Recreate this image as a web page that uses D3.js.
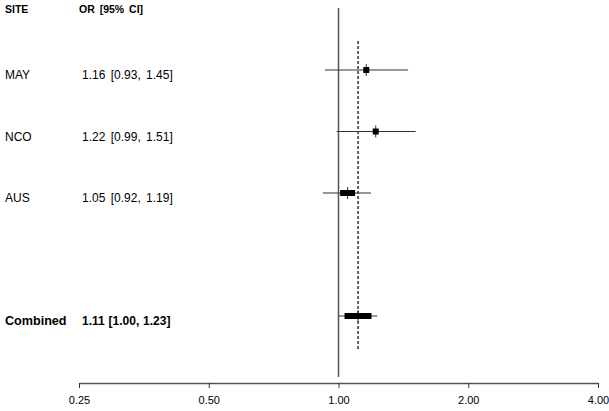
<!DOCTYPE html>
<html><head><meta charset="utf-8">
<script src="https://cdn.jsdelivr.net/npm/d3@7"></script>
<style>body{margin:0;background:#fff}</style>
</head><body>
<script>
const sites = ["MAY", "NCO", "AUS", "Combined"];
const orVals = [1.16, 1.22, 1.05, 1.11];
const ciLow = [0.93, 0.99, 0.92, 1.00];
const ciHigh = [1.45, 1.51, 1.19, 1.23];
const weights = [6, 6, 15, 27];
const rowIndex = [0, 1, 2, 4];
const tickVals = [0.25, 0.5, 1, 2, 4];
const tickLabels = ["0.25", "0.50", "1.00", "2.00", "4.00"];

const W = 609, H = 411;
const svg = d3.select("body").append("svg").attr("width", W).attr("height", H)
  .style("font-family", "'Liberation Sans', Arial, sans-serif");

const x = d3.scaleLog().base(2).domain([0.25, 4]).range([79, 598]);
const y = d3.scaleLinear().domain([0, 4]).range([70, 316]);

// header
svg.append("text").attr("x", 5).attr("y", 12.5).attr("font-size", 10.5).attr("font-weight", "bold").text("SITE");
svg.append("text").attr("x", 79).attr("y", 12.5).attr("font-size", 10.5).attr("font-weight", "bold").attr("word-spacing", 2).text("OR [95% CI]");

// reference line at 1
svg.append("line").attr("x1", x(1)).attr("x2", x(1)).attr("y1", 8).attr("y2", 377)
  .attr("stroke", "#555").attr("stroke-width", 1.5);
// combined dashed line
const comb = orVals[3];
svg.append("line").attr("x1", x(comb)).attr("x2", x(comb)).attr("y1", 41).attr("y2", 350)
  .attr("stroke", "#000").attr("stroke-width", 1.2).attr("stroke-dasharray", "3,2");

const fmt = d3.format(".2f");
sites.forEach((s, i) => {
  const yy = y(rowIndex[i]);
  const bold = s === "Combined";
  svg.append("text").attr("x", 5).attr("y", yy + 9).attr("font-size", bold ? 12.6 : 12)
    .attr("font-weight", bold ? "bold" : "normal").text(s);
  svg.append("text").attr("x", 82).attr("y", yy + 9).attr("font-size", 12)
    .attr("font-weight", bold ? "bold" : "normal").attr("word-spacing", bold ? 0.5 : 2)
    .text(fmt(orVals[i]) + " [" + fmt(ciLow[i]) + ", " + fmt(ciHigh[i]) + "]");
  // CI line
  svg.append("line").attr("x1", x(ciLow[i])).attr("x2", x(ciHigh[i])).attr("y1", yy).attr("y2", yy)
    .attr("stroke", "#333").attr("stroke-width", 1);
  // vertical tick
  svg.append("line").attr("x1", x(orVals[i])).attr("x2", x(orVals[i])).attr("y1", yy - 6).attr("y2", yy + 6)
    .attr("stroke", "#333").attr("stroke-width", 1);
  // box
  const w = weights[i];
  svg.append("rect").attr("x", x(orVals[i]) - w / 2).attr("y", yy - 3).attr("width", w).attr("height", 6)
    .attr("fill", "#000");
});

// axis
const axis = d3.axisBottom(x).tickValues(tickVals).tickFormat((d, i) => tickLabels[i]).tickSize(5).tickSizeOuter(0);
const g = svg.append("g").attr("transform", "translate(0,383)").call(axis);
g.select(".domain").attr("stroke", "#555").attr("stroke-width", 1.5);
g.selectAll(".tick line").attr("stroke", "#333");
g.selectAll(".tick text").attr("font-size", 11).attr("fill", "#000").attr("dy", "1.2em")
  .style("font-family", "'Liberation Sans', Arial, sans-serif");
</script>
</body></html>
